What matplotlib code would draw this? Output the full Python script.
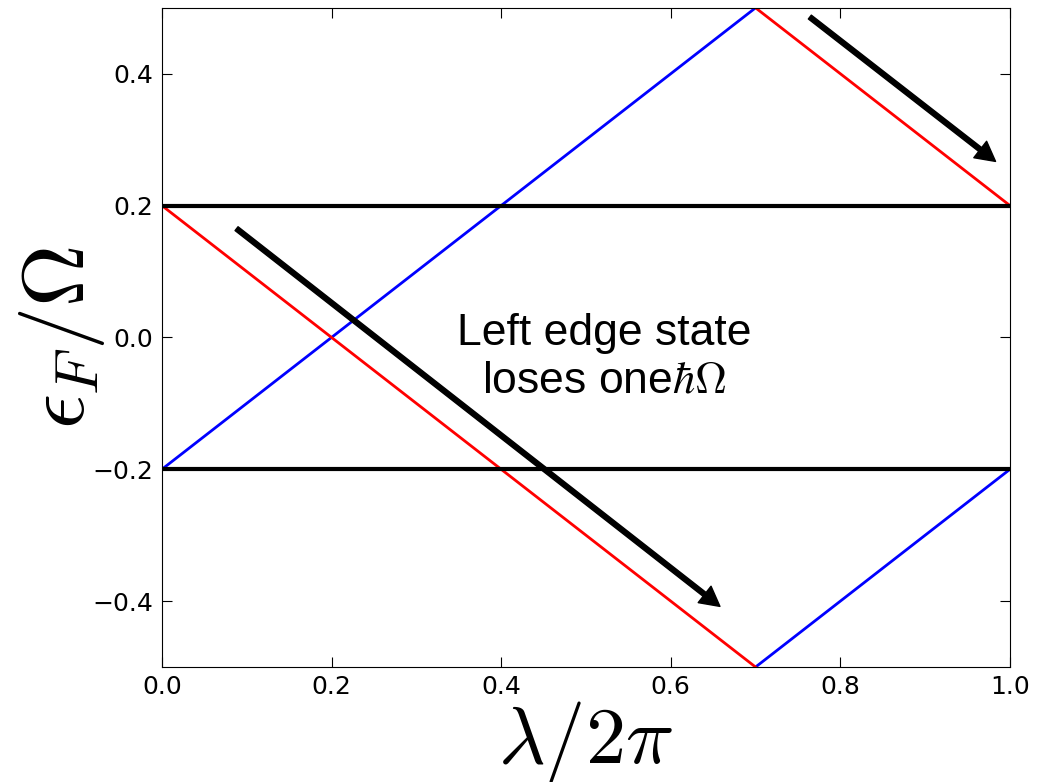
import matplotlib
matplotlib.use("Agg")
import matplotlib.pyplot as plt

# Floquet edge-state branches (quasi-energy folded into [-0.5, 0.5])
lam_a = [0.0, 0.7]
lam_b = [0.7, 1.0]
blue_a = [-0.2, 0.5]
blue_b = [-0.5, -0.2]
red_a = [0.2, -0.5]
red_b = [0.5, 0.2]

# gap edges
gap_levels = [0.2, -0.2]

# arrows (start -> end) in data coordinates
arrow_starts = [(0.088, 0.165), (0.764, 0.486)]
arrow_ends = [(0.658, -0.408), (0.983, 0.267)]

xticks = [0.0, 0.2, 0.4, 0.6, 0.8, 1.0]
yticks = [-0.4, -0.2, 0.0, 0.2, 0.4]

plt.rcParams['mathtext.fontset'] = 'cm'
plt.rcParams['font.family'] = ['DejaVu Sans']

fig = plt.figure(figsize=(10.38, 7.82), dpi=100)
ax = fig.add_axes([0.156, 0.147, 0.817, 0.843])

ax.plot(lam_a, blue_a, color='blue', lw=2)
ax.plot(lam_b, blue_b, color='blue', lw=2)
ax.plot(lam_a, red_a, color='red', lw=2)
ax.plot(lam_b, red_b, color='red', lw=2)
for g in gap_levels:
    ax.axhline(g, color='black', lw=3)

for s, e in zip(arrow_starts, arrow_ends):
    ax.annotate('', xy=e, xytext=s,
                arrowprops=dict(facecolor='black', edgecolor='black',
                                width=3.5, headwidth=15, headlength=14,
                                shrink=0.0))

ax.text(0.522, -0.03, "Left edge state\nloses one$\\hbar\\Omega$",
        ha='center', va='center', fontsize=32, family='Liberation Sans',
        linespacing=1.22)

ax.set_xlim(0, 1)
ax.set_ylim(-0.5, 0.5)
ax.set_xticks(xticks)
ax.set_yticks(yticks)
ax.tick_params(direction='in', top=True, right=True, labelsize=18,
               length=7, pad=6)
ax.set_xlabel(r'$\lambda/2\pi$', fontsize=58, labelpad=0)
ax.set_ylabel(r'$\epsilon_F/\Omega$', fontsize=62, labelpad=-10)

fig.savefig('out.png', dpi=100)
